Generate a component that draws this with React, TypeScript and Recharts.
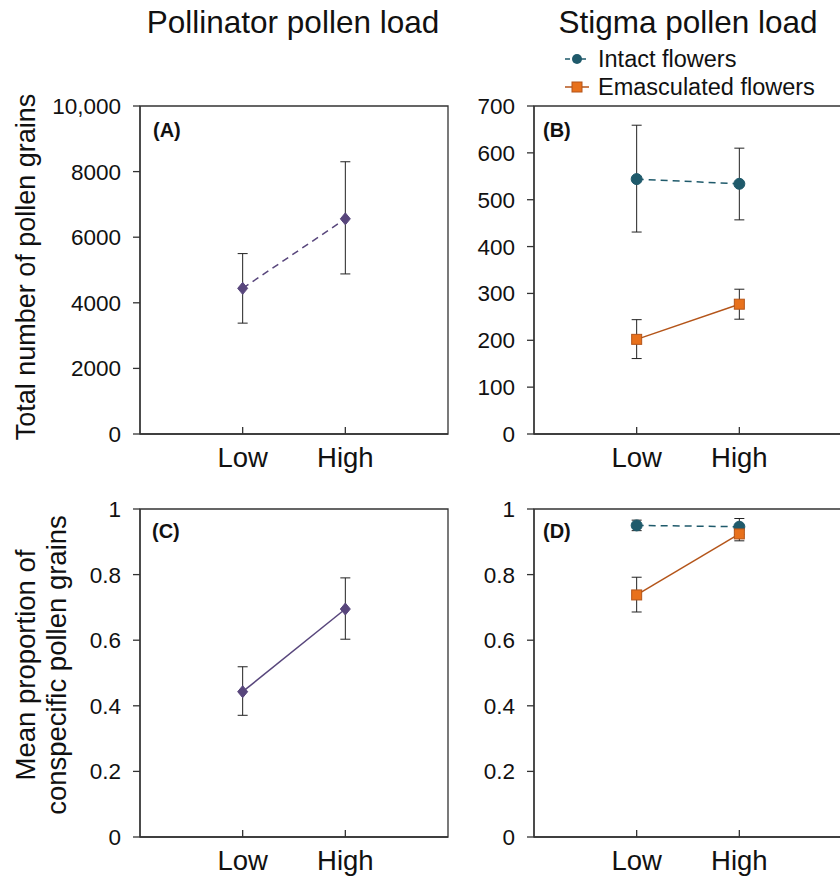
import React from "react";
import {
  LineChart,
  Line,
  XAxis,
  YAxis,
  ErrorBar,
  ReferenceArea,
} from "recharts";

// categories
const groups = ["Low", "High"];
const groupX = [1, 2];

// (A) pollinator pollen load, total grains
const pollMean = [4440, 6560];
const pollUpper = [5500, 8300];
const pollLower = [3380, 4880];

// (B) stigma pollen load
const intactMean = [544, 534];
const intactUpper = [659, 610];
const intactLower = [431, 457];
const emascMean = [202, 277];
const emascUpper = [244, 309];
const emascLower = [161, 245];

// (C) pollinator proportion conspecific
const pollPropMean = [0.443, 0.695];
const pollPropUpper = [0.519, 0.79];
const pollPropLower = [0.371, 0.603];

// (D) stigma proportion conspecific
const intactPropMean = [0.95, 0.946];
const intactPropUpper = [0.966, 0.971];
const intactPropLower = [0.934, 0.922];
const emascPropMean = [0.738, 0.924];
const emascPropUpper = [0.792, 0.935];
const emascPropLower = [0.686, 0.903];

const ticksA = [0, 2000, 4000, 6000, 8000, 10000];
const ticksB = [0, 100, 200, 300, 400, 500, 600, 700];
const ticksProp = [0, 0.2, 0.4, 0.6, 0.8, 1];

const FONT = "'Liberation Sans', Arial, Helvetica, sans-serif";
const PURPLE = "#58467c";
const TEAL = "#1f5a6b";
const ORANGE = "#e8711c";
const ORANGE_DARK = "#b4551a";
const AXIS = "#333";

const rowsFor = (mean: number[], up: number[], lo: number[]) =>
  mean.map((m, i) => ({ m, err: [m - lo[i], up[i] - m] }));

const mergeRows = (series: Record<string, { m: number; err: number[] }[]>) =>
  groupX.map((x, i) => {
    const row: any = { x };
    Object.keys(series).forEach((k) => {
      row[k] = series[k][i].m;
      row[k + "Err"] = series[k][i].err;
    });
    return row;
  });

const dataA = mergeRows({ p: rowsFor(pollMean, pollUpper, pollLower) });
const dataB = mergeRows({
  i: rowsFor(intactMean, intactUpper, intactLower),
  e: rowsFor(emascMean, emascUpper, emascLower),
});
const dataC = mergeRows({ p: rowsFor(pollPropMean, pollPropUpper, pollPropLower) });
const dataD = mergeRows({
  i: rowsFor(intactPropMean, intactPropUpper, intactPropLower),
  e: rowsFor(emascPropMean, emascPropUpper, emascPropLower),
});

const diamondDot = (props: any) => {
  const { cx, cy, index } = props;
  return (
    <path
      key={"d" + index}
      d={`M${cx},${cy - 6} L${cx + 5},${cy} L${cx},${cy + 6} L${cx - 5},${cy} Z`}
      fill={PURPLE}
      stroke={PURPLE}
    />
  );
};

const circleDot = (props: any) => {
  const { cx, cy, index } = props;
  return <circle key={"c" + index} cx={cx} cy={cy} r={5.5} fill={TEAL} stroke={TEAL} />;
};

const squareDot = (props: any) => {
  const { cx, cy, index } = props;
  return (
    <rect
      key={"s" + index}
      x={cx - 5}
      y={cy - 5}
      width={10}
      height={10}
      fill={ORANGE}
      stroke={ORANGE_DARK}
      strokeWidth={1}
    />
  );
};

const fmtA = (v: number) => (v === 10000 ? "10,000" : String(v));
const fmtProp = (v: number) => String(v);

type PanelProps = {
  data: any[];
  ticks: number[];
  fmt: (v: number) => string;
  width: number;
  yWidth: number;
  right: number;
  children: React.ReactNode;
};

function Panel({ data, ticks, fmt, width, yWidth, right, children }: PanelProps) {
  const max = ticks[ticks.length - 1];
  return (
    <LineChart
      width={width}
      height={390}
      data={data}
      margin={{ top: 16, right, bottom: 6, left: 0 }}
    >
      <XAxis
        dataKey="x"
        type="number"
        domain={[0, 3]}
        ticks={groupX}
        tickFormatter={(v: number) => groups[v - 1]}
        tickSize={-7}
        tickMargin={20}
        height={40}
        stroke={AXIS}
        strokeWidth={1.3}
        tick={{ fill: "#111", fontSize: 27.5, fontFamily: FONT }}
      />
      <YAxis
        type="number"
        domain={[0, max]}
        ticks={ticks}
        tickFormatter={fmt}
        width={yWidth}
        tickSize={7}
        tickMargin={12}
        stroke={AXIS}
        strokeWidth={1.3}
        tick={{ fill: "#111", fontSize: 22.5, fontFamily: FONT }}
      />
      <ReferenceArea
        x1={0}
        x2={3}
        y1={0}
        y2={max}
        fill="none"
        stroke={AXIS}
        strokeWidth={1.3}
        ifOverflow="visible"
      />
      {children}
    </LineChart>
  );
}

const errBar = (key: string) => (
  <ErrorBar dataKey={key} direction="y" width={5} stroke="#222" strokeWidth={1} />
);

const abs = (left: number, top: number, extra: React.CSSProperties = {}): React.CSSProperties => ({
  position: "absolute",
  left,
  top,
  ...extra,
});

const panelLabel: React.CSSProperties = {
  fontWeight: "bold",
  fontSize: 20,
  lineHeight: "22px",
  color: "#111",
};

function LegendIcon({ kind }: { kind: "circle" | "square" }) {
  return (
    <svg width={28} height={16} style={{ display: "block" }}>
      {kind === "circle" ? (
        <>
          <line x1={1} y1={8} x2={25} y2={8} stroke={TEAL} strokeWidth={1.5} strokeDasharray="5 3" />
          <circle cx={13} cy={8} r={5} fill={TEAL} />
        </>
      ) : (
        <>
          <line x1={1} y1={8} x2={25} y2={8} stroke={ORANGE_DARK} strokeWidth={1.5} />
          <rect x={8} y={3} width={10} height={10} fill={ORANGE} stroke={ORANGE_DARK} />
        </>
      )}
    </svg>
  );
}

export default function App() {
  return (
    <div
      style={{
        position: "absolute",
        left: 0,
        top: 0,
        width: 840,
        height: 878,
        overflow: "hidden",
        background: "#fff",
        fontFamily: FONT,
        color: "#111",
      }}
    >
      <div style={abs(293, 22, { transform: "translate(-50%,-50%)", fontSize: 31.5, whiteSpace: "nowrap" })}>
        Pollinator pollen load
      </div>
      <div style={abs(688, 22, { transform: "translate(-50%,-50%)", fontSize: 31.5, whiteSpace: "nowrap" })}>
        Stigma pollen load
      </div>

      <div style={abs(564, 47, { display: "flex", alignItems: "center", fontSize: 23.5, lineHeight: "24px" })}>
        <LegendIcon kind="circle" />
        <span style={{ marginLeft: 6 }}>Intact flowers</span>
      </div>
      <div style={abs(564, 75, { display: "flex", alignItems: "center", fontSize: 23.5, lineHeight: "24px" })}>
        <LegendIcon kind="square" />
        <span style={{ marginLeft: 6 }}>Emasculated flowers</span>
      </div>

      <div style={abs(40, 90)}>
        <Panel data={dataA} ticks={ticksA} fmt={fmtA} width={420} yWidth={100} right={12}>
          <Line
            dataKey="p"
            stroke={PURPLE}
            strokeWidth={1.5}
            strokeDasharray="7 5"
            dot={diamondDot}
            activeDot={false}
            isAnimationActive={false}
          >
            {errBar("pErr")}
          </Line>
        </Panel>
      </div>

      <div style={abs(460, 90)}>
        <Panel data={dataB} ticks={ticksB} fmt={fmtProp} width={400} yWidth={74} right={18}>
          <Line
            dataKey="i"
            stroke={TEAL}
            strokeWidth={1.5}
            strokeDasharray="7 5"
            dot={circleDot}
            activeDot={false}
            isAnimationActive={false}
          >
            {errBar("iErr")}
          </Line>
          <Line
            dataKey="e"
            stroke={ORANGE_DARK}
            strokeWidth={1.5}
            dot={squareDot}
            activeDot={false}
            isAnimationActive={false}
          >
            {errBar("eErr")}
          </Line>
        </Panel>
      </div>

      <div style={abs(40, 493)}>
        <Panel data={dataC} ticks={ticksProp} fmt={fmtProp} width={420} yWidth={100} right={12}>
          <Line
            dataKey="p"
            stroke={PURPLE}
            strokeWidth={1.5}
            dot={diamondDot}
            activeDot={false}
            isAnimationActive={false}
          >
            {errBar("pErr")}
          </Line>
        </Panel>
      </div>

      <div style={abs(460, 493)}>
        <Panel data={dataD} ticks={ticksProp} fmt={fmtProp} width={400} yWidth={74} right={18}>
          <Line
            dataKey="i"
            stroke={TEAL}
            strokeWidth={1.5}
            strokeDasharray="7 5"
            dot={circleDot}
            activeDot={false}
            isAnimationActive={false}
          >
            {errBar("iErr")}
          </Line>
          <Line
            dataKey="e"
            stroke={ORANGE_DARK}
            strokeWidth={1.5}
            dot={squareDot}
            activeDot={false}
            isAnimationActive={false}
          >
            {errBar("eErr")}
          </Line>
        </Panel>
      </div>

      <div
        style={abs(26, 267, {
          transform: "translate(-50%,-50%) rotate(-90deg)",
          fontSize: 27,
          whiteSpace: "nowrap",
        })}
      >
        Total number of pollen grains
      </div>
      <div
        style={abs(41, 665, {
          transform: "translate(-50%,-50%) rotate(-90deg)",
          fontSize: 27.5,
          lineHeight: "31px",
          whiteSpace: "nowrap",
          textAlign: "center",
        })}
      >
        Mean proportion of
        <br />
        conspecific pollen grains
      </div>

      <div style={abs(153, 119, panelLabel)}>(A)</div>
      <div style={abs(543, 119, panelLabel)}>(B)</div>
      <div style={abs(152, 520, panelLabel)}>(C)</div>
      <div style={abs(543, 520, panelLabel)}>(D)</div>
    </div>
  );
}
